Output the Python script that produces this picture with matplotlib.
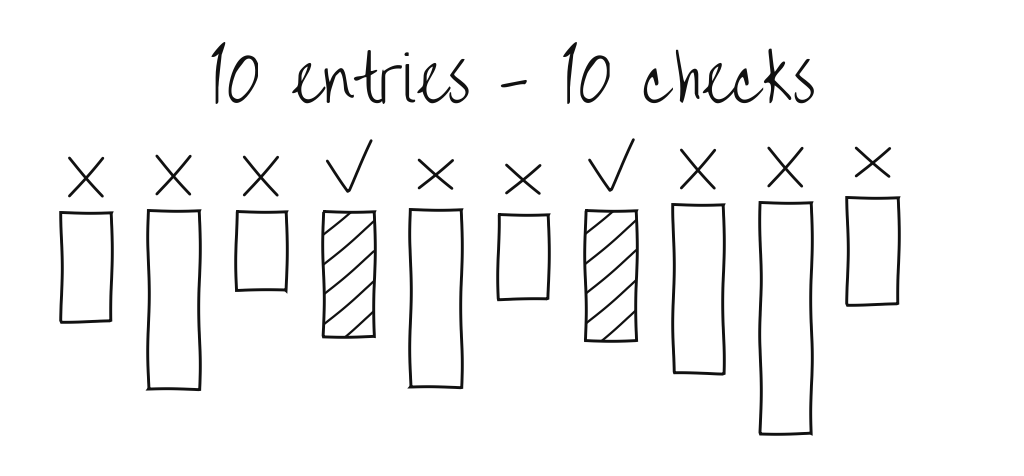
import matplotlib.pyplot as plt
import numpy as np

# one hand-drawn "entry" box per item, hanging from the top, with a mark above it
title = "10 entries - 10 checks"
bar_tops = [213, 211, 212, 212, 210, 215, 211, 205, 203, 198]
bar_lengths = [109, 179, 79, 125, 178, 85, 130, 169, 231, 107]
marks = ["X", "X", "X", "check", "x", "x", "check", "X", "X", "x"]

plt.rcParams['path.sketch'] = (0.8, 120, 1.5)

fig = plt.figure(figsize=(10.24, 4.77), dpi=100)
ax = fig.add_axes([0, 0, 1, 1])
ax.set_xlim(-0.984, 10.73)
ax.set_ylim(477, 0)
ax.axis('off')
px = 87.4  # pixels per category step, used for the hatch slope

x = np.arange(len(bar_tops))
bars = ax.bar(x, bar_lengths, bottom=bar_tops, width=0.58, align='center',
              facecolor='white', edgecolor='#111111', linewidth=2.1, zorder=2)

# sparse hand hatching on the checked boxes
for b, m in zip(bars, marks):
    if m != 'check':
        continue
    x0, w = b.get_x(), b.get_width()
    y0, h = b.get_y(), b.get_height()
    for yy in np.arange(y0 + 24, y0 + h + w * px, 30):
        ln, = ax.plot([x0, x0 + w], [yy, yy - w * px * 0.85], color='#111111',
                      lw=1.6, zorder=3)
        ln.set_clip_path(b)

# marks drawn as strokes above each box
for xi, top, m in zip(x, bar_tops, marks):
    cy = top - 35
    if m == 'check':
        ax.plot([xi - 0.24, xi, xi + 0.27], [top - 50, top - 20, top - 70],
                color='#111111', lw=2, solid_capstyle='round')
    else:
        hw = 0.19
        hh = 19 if m == 'X' else 14
        ax.plot([xi - hw, xi + hw], [cy + hh, cy - hh], color='#111111', lw=2,
                solid_capstyle='round')
        ax.plot([xi - hw, xi + hw], [cy - hh, cy + hh], color='#111111', lw=2,
                solid_capstyle='round')

fig.text(0.5, 1 - 103 / 477, title, ha='center', va='baseline', fontsize=44,
         family=['Over the Rainbow', 'DejaVu Sans'], color='#111111')

fig.savefig('out.png', dpi=100, facecolor='white')
